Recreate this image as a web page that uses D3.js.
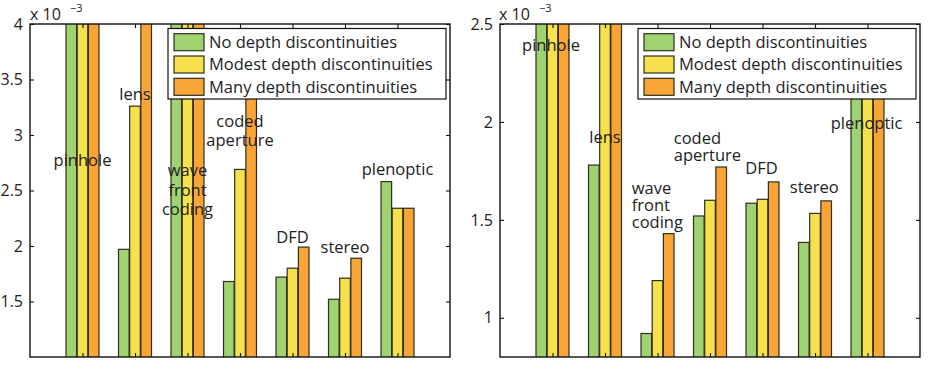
<!DOCTYPE html>
<html>
<head>
<meta charset="utf-8">
<script src="https://cdn.jsdelivr.net/npm/d3@7"></script>
<style>
  body { margin: 0; background: #fff; }
  text { font-family: "Open Sans", "Noto Sans", sans-serif; fill: #222; }
</style>
</head>
<body>
<div id="chart-area"></div>
<script>
// Data (values in units of 10^-3)
const categories = ["pinhole", "lens", "wave front coding", "coded aperture", "DFD", "stereo", "plenoptic"]
const seriesNames = ["No depth discontinuities", "Modest depth discontinuities", "Many depth discontinuities"]
const seriesColors = ["#9fd36f", "#f6e04c", "#f8a535"]

// left panel
const leftNoDepth = [5.2, 1.97, 5.2, 1.68, 1.72, 1.52, 2.58]
const leftModest = [5.2, 3.26, 5.2, 2.69, 1.80, 1.71, 2.34]
const leftMany = [5.2, 5.2, 5.2, 3.6, 1.99, 1.89, 2.34]
const leftTicks = [1.5, 2, 2.5, 3, 3.5, 4]

// right panel
const rightNoDepth = [3.0, 1.78, 0.92, 1.52, 1.585, 1.385, 2.3]
const rightModest = [3.0, 3.0, 1.19, 1.60, 1.605, 1.533, 2.3]
const rightMany = [3.0, 3.0, 1.43, 1.77, 1.694, 1.597, 2.35]
const rightTicks = [1, 1.5, 2, 2.5]

// text annotations (category index, value at first line)
const leftLabels = [
	{ lines: ["pinhole"], x: 1, y: 2.77 },
	{ lines: ["lens"], x: 2, y: 3.37 },
	{ lines: ["wave", "front", "coding"], x: 3, y: 2.68 },
	{ lines: ["coded", "aperture"], x: 4, y: 3.125 },
	{ lines: ["DFD"], x: 5, y: 2.08 },
	{ lines: ["stereo"], x: 6, y: 1.99 },
	{ lines: ["plenoptic"], x: 7, y: 2.69 }
]
const rightLabels = [
	{ lines: ["pinhole"], x: 0.42, y: 2.393 },
	{ lines: ["lens"], x: 1.70, y: 1.924 },
	{ lines: ["wave", "front", "coding"], x: 2.51, y: 1.66 },
	{ lines: ["coded", "aperture"], x: 3.31, y: 1.916 },
	{ lines: ["DFD"], x: 4.67, y: 1.763 },
	{ lines: ["stereo"], x: 5.52, y: 1.666 },
	{ lines: ["plenoptic"], x: 6.30, y: 1.993 }
]

// Canvas
const svg = d3.select("#chart-area")
	.append("svg")
	.attr("width", 928)
	.attr("height", 368)

const width = 420,
	height = 333

function drawPanel(id, left, yDomain, series, ticks, labels, opts) {
	const g = svg.append("g")
		.attr("transform", `translate(${left}, 24)`)

	// Scales
	const x = d3.scaleLinear().domain([0, 8]).range([0, width])
	const y = d3.scaleLinear().domain(yDomain).range([height, 0])
	const xInner = d3.scaleBand().domain(d3.range(series.length)).range([-16.5, 16.5]).paddingInner(0.05)

	g.append("clipPath").attr("id", id)
		.append("rect").attr("width", width).attr("height", height)

	// Bars
	const rows = []
	series.forEach((vals, j) => {
		vals.forEach((v, i) => rows.push({ cat: i + 1, s: j, v: v }))
	})

	g.append("g")
		.attr("clip-path", `url(#${id})`)
		.selectAll("rect")
		.data(rows)
		.enter().append("rect")
		.attr("x", d => x(d.cat) + xInner(d.s))
		.attr("width", xInner.bandwidth())
		.attr("y", d => y(d.v))
		.attr("height", d => height - y(d.v) + 2)
		.attr("fill", d => seriesColors[d.s])
		.attr("stroke", "#2e2e22")
		.attr("stroke-width", 1.2)

	// Annotations
	const lab = g.append("g")
		.attr("font-size", "16.5px")
		.attr("text-anchor", opts.anchor)
	labels.forEach(l => {
		const t = lab.append("text")
		l.lines.forEach((line, k) => {
			t.append("tspan")
				.attr("x", x(l.x))
				.attr("y", y(l.y) + k * opts.lineHeight)
				.attr("dy", "0.35em")
				.text(line)
		})
	})

	// Legend
	const legW = 278, legH = 70.5
	const leg = g.append("g")
		.attr("transform", `translate(${width - 4 - legW}, 4.5)`)
	leg.append("rect")
		.attr("width", legW)
		.attr("height", legH)
		.attr("fill", "#fff")
		.attr("stroke", "#111")
		.attr("stroke-width", 1.2)
	seriesNames.forEach((name, j) => {
		const cy = 13.7 + j * 22.3
		leg.append("rect")
			.attr("x", 6).attr("y", cy - 8.5)
			.attr("width", 30).attr("height", 17)
			.attr("fill", seriesColors[j])
			.attr("stroke", "#2e2e22")
			.attr("stroke-width", 1.2)
		leg.append("text")
			.attr("x", 41).attr("y", cy)
			.attr("dy", "0.35em")
			.attr("font-size", "16.5px")
			.text(name)
	})

	// Axes
	const yAxisCall = d3.axisLeft(y).tickValues(ticks).tickFormat(d3.format("")).tickSize(-4).tickPadding(7)
	const yAxis = g.append("g").attr("class", "y axis").call(yAxisCall)
	yAxis.selectAll("text").attr("font-size", "16px").style("font-family", "Open Sans").attr("fill", "#222")

	g.append("g")
		.attr("transform", `translate(${width}, 0)`)
		.call(d3.axisRight(y).tickValues(ticks).tickSize(-4).tickFormat(""))

	const catTicks = d3.range(1, categories.length + 1)
	g.append("g")
		.call(d3.axisTop(x).tickValues(catTicks).tickSize(-4).tickFormat(""))
	g.append("g")
		.attr("transform", `translate(0, ${height})`)
		.call(d3.axisBottom(x).tickValues(catTicks).tickSize(-4).tickFormat(""))

	g.selectAll(".domain").remove()
	g.selectAll(".tick line").attr("stroke", "#111").attr("stroke-width", 1.1)

	// frame
	g.append("rect")
		.attr("width", width)
		.attr("height", height)
		.attr("fill", "none")
		.attr("stroke", "#111")
		.attr("stroke-width", 1.4)

	// exponent label
	g.append("text")
		.attr("x", opts.expX)
		.attr("y", -4)
		.attr("font-size", "16px")
		.text("x 10")
	g.append("text")
		.attr("x", opts.expX + 40)
		.attr("y", -12)
		.attr("font-size", "11px")
		.text("\u22123")
}

drawPanel("clipL", 30, [1, 4], [leftNoDepth, leftModest, leftMany], leftTicks, leftLabels,
	{ anchor: "middle", lineHeight: 19.5, expX: 0 })
drawPanel("clipR", 500, [0.8, 2.5], [rightNoDepth, rightModest, rightMany], rightTicks, rightLabels,
	{ anchor: "start", lineHeight: 16.7, expX: -1 })
</script>
</body>
</html>
